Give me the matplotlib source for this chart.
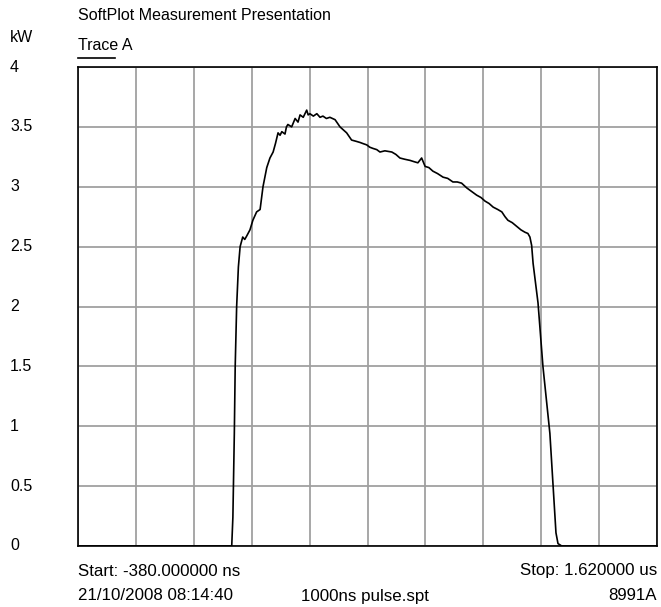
import numpy as np
import matplotlib
matplotlib.use('Agg')
import matplotlib.pyplot as plt
import matplotlib.transforms as mtransforms

plt.rcParams['font.family'] = ['Liberation Sans', 'DejaVu Sans']

# trace samples: time in ns, power in kW
time_ns = [-380, 151, 155, 160, 163, 168, 174, 180, 189, 196, 203, 214, 224, 237,
           249, 259, 272, 283, 294, 302, 311, 318, 324, 335, 340, 345, 358, 370,
           380, 387, 398, 410, 415, 421, 433, 445, 456, 466, 478, 490, 508, 525,
           548, 565, 580, 594, 605, 617, 628, 639, 652, 663, 680, 704, 718, 732,
           748, 767, 780, 794, 807, 819, 832, 846, 862, 881, 897, 915, 930, 945,
           963, 980, 997, 1012, 1026, 1040, 1054, 1070, 1084, 1095, 1105, 1120,
           1135, 1150, 1164, 1174, 1181, 1187, 1192, 1209, 1226, 1250, 1271,
           1278, 1291, 1620]
power_kw = [0, 0, 0.24, 0.94, 1.50, 2.00, 2.33, 2.50, 2.58, 2.56, 2.59, 2.64,
            2.72, 2.79, 2.81, 3.00, 3.16, 3.24, 3.29, 3.36, 3.45, 3.43, 3.46,
            3.44, 3.50, 3.52, 3.50, 3.57, 3.54, 3.60, 3.58, 3.64, 3.60, 3.61,
            3.59, 3.61, 3.58, 3.59, 3.57, 3.58, 3.56, 3.50, 3.45, 3.39, 3.38,
            3.37, 3.36, 3.35, 3.33, 3.32, 3.31, 3.29, 3.30, 3.29, 3.27, 3.24,
            3.23, 3.22, 3.21, 3.20, 3.24, 3.17, 3.16, 3.13, 3.11, 3.08, 3.07,
            3.04, 3.04, 3.03, 2.99, 2.96, 2.93, 2.91, 2.88, 2.86, 2.83, 2.81,
            2.79, 2.75, 2.72, 2.70, 2.67, 2.64, 2.62, 2.61, 2.58, 2.51, 2.36,
            2.03, 1.50, 0.94, 0.11, 0.02, 0, 0]

x_start, x_stop = -380, 1620
y_ticks = [0, 0.5, 1, 1.5, 2, 2.5, 3, 3.5, 4]
y_tick_labels = ['0', '0.5', '1', '1.5', '2', '2.5', '3', '3.5', '4']

fig = plt.figure(figsize=(6.61, 6.07), dpi=100)
ax = fig.add_axes([78 / 661, 1 - 546 / 607, 579 / 661, 479 / 607])

ax.plot(time_ns, power_kw, color='black', lw=1.2, zorder=3)

ax.set_xlim(x_start, x_stop)
ax.set_ylim(0, 4)
ax.set_xticks(np.linspace(x_start, x_stop, 11))
ax.set_yticks(y_ticks)
ax.grid(True, color='#a0a0a0', lw=1.3)
ax.tick_params(length=0, labelbottom=False, labelleft=False)
for s in ax.spines.values():
    s.set_color('black')
    s.set_linewidth(1.2)

fs = 11.5
fs_bottom = 12.2

# y labels at the far left
trans = mtransforms.blended_transform_factory(fig.transFigure, ax.transData)
for v, lab in zip(y_ticks, y_tick_labels):
    ax.text(10 / 661, v, lab, transform=trans, ha='left', va='center',
            fontsize=fs, clip_on=False)

fig.text(78 / 661, 1 - 15 / 607, 'SoftPlot Measurement Presentation',
         ha='left', va='center', fontsize=fs)
fig.text(10 / 661, 1 - 38 / 607, 'kW', ha='left', va='center', fontsize=fs)
fig.text(78 / 661, 1 - 45 / 607, 'Trace A', ha='left', va='center', fontsize=fs)
fig.add_artist(plt.Line2D([78 / 661, 115 / 661], [1 - 58 / 607, 1 - 58 / 607],
                          color='black', lw=1.2))

fig.text(78 / 661, 1 - 571 / 607, 'Start: -380.000000 ns',
         ha='left', va='center', fontsize=fs_bottom)
fig.text(657 / 661, 1 - 571 / 607, 'Stop: 1.620000 us',
         ha='right', va='center', fontsize=fs_bottom)
fig.text(78 / 661, 1 - 596 / 607, '21/10/2008 08:14:40',
         ha='left', va='center', fontsize=fs_bottom)
fig.text(301 / 661, 1 - 596 / 607, '1000ns pulse.spt',
         ha='left', va='center', fontsize=fs_bottom)
fig.text(657 / 661, 1 - 596 / 607, '8991A',
         ha='right', va='center', fontsize=fs_bottom)

fig.savefig('out.png', dpi=100)
